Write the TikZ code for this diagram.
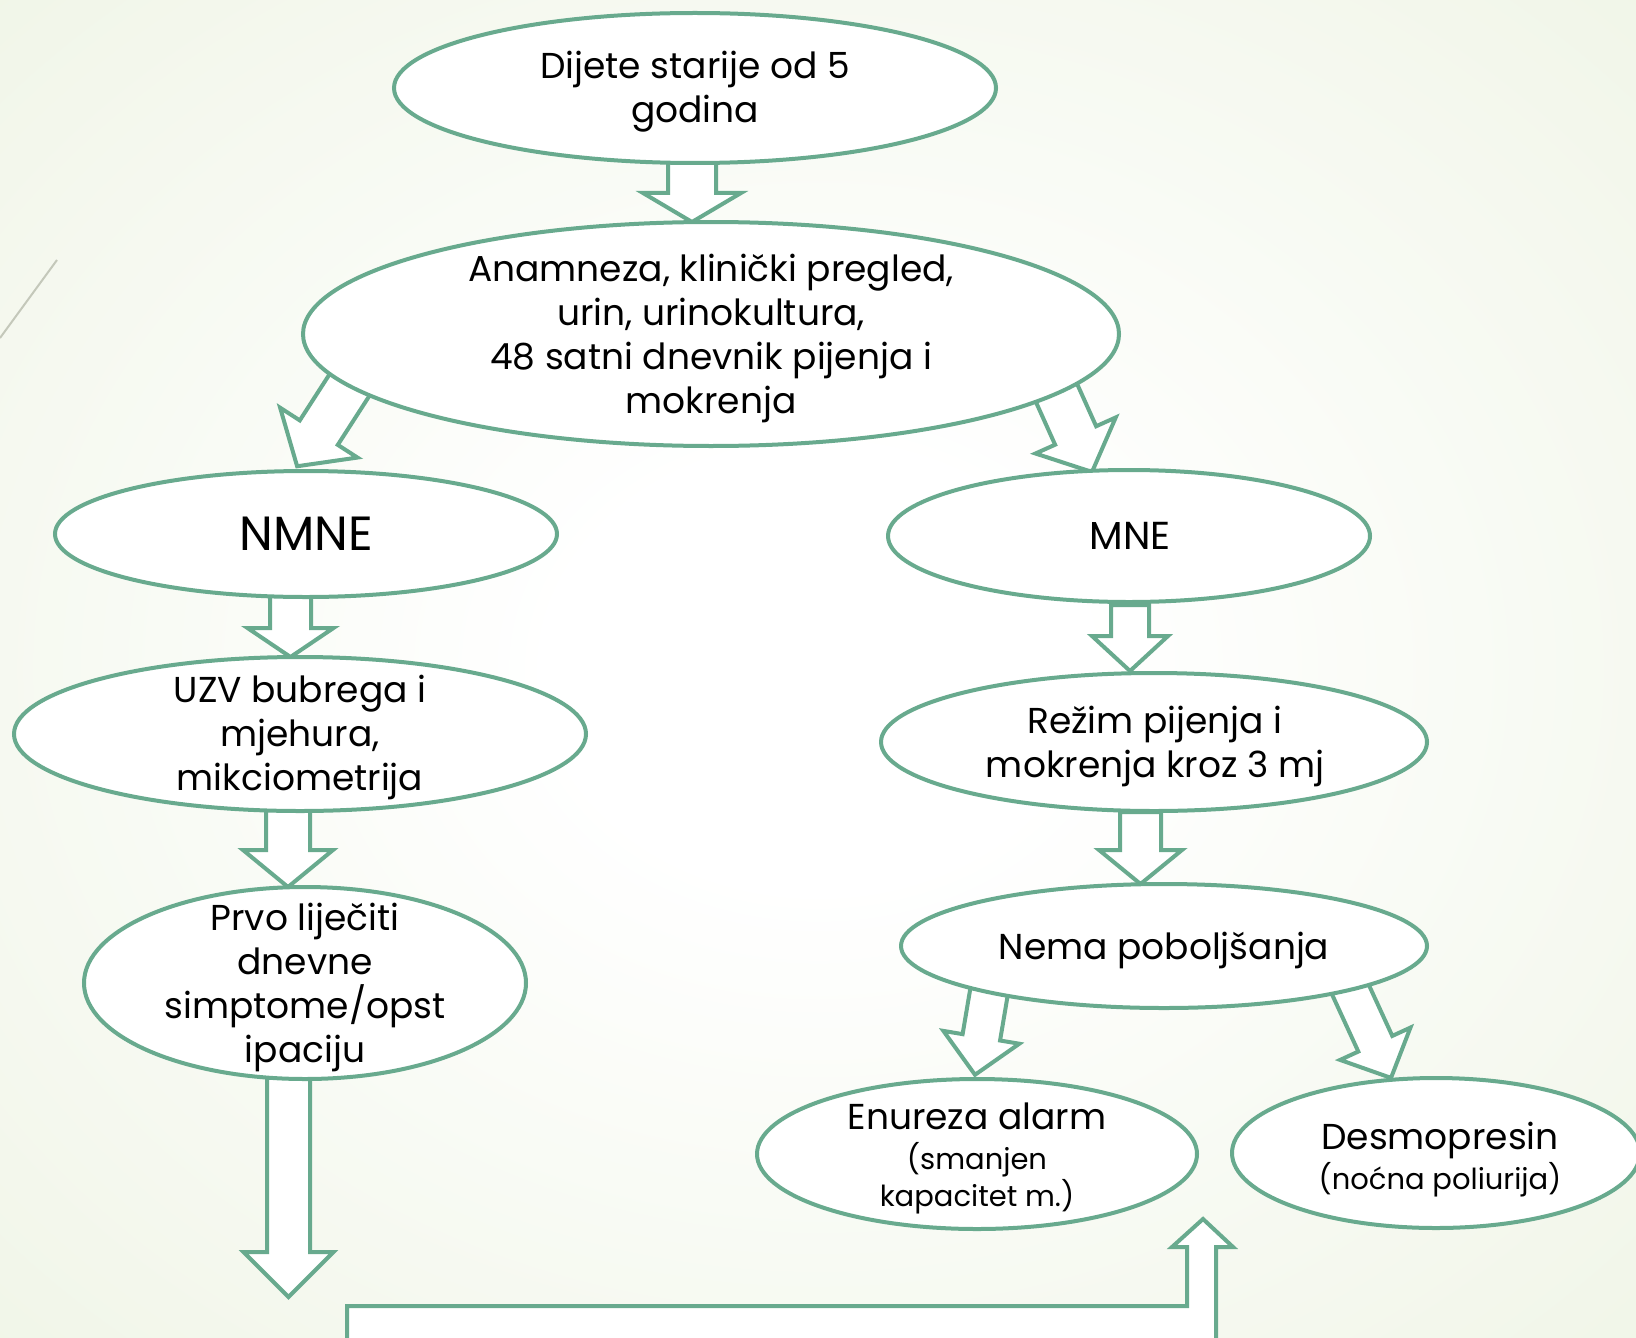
\documentclass[tikz,border=0pt]{standalone}
\usepackage{fontspec}
\setmainfont{Poppins}
\usetikzlibrary{shapes.geometric}
\definecolor{lg}{RGB}{104,170,142}
\definecolor{bgout}{RGB}{222,233,202}
\definecolor{deco}{RGB}{196,200,186}
\pgfdeclareradialshading{bgshade}{\pgfpoint{0bp}{0bp}}{color(0bp)=(white); color(8bp)=(white); color(72bp)=(bgout)}
\newcommand{\blockarrow}[7]{%
  \draw[barrowstyle, shift={(#1,#2)}, rotate=#3]
    (-#5,0) -- (-#5,{#4-#7}) -- (-#6,{#4-#7}) -- (0,#4) -- (#6,{#4-#7}) -- (#5,{#4-#7}) -- (#5,0) -- cycle;}
\begin{document}
\begin{tikzpicture}[x=0.5pt,y=-0.5pt,
  oval/.style={ellipse, draw=lg, line width=2pt, fill=white, inner sep=0pt},
  barrowstyle/.style={draw=lg, line width=2pt, fill=white, line join=miter},
  txt/.style={align=center, font=\fontsize{18}{22}\selectfont, inner sep=0pt},
  big/.style={align=center, font=\fontsize{24}{28}\selectfont, inner sep=0pt},
  mid/.style={align=center, font=\fontsize{19.5}{23}\selectfont, inner sep=0pt},
  small/.style={align=center, font=\fontsize{14.5}{18.5}\selectfont, inner sep=0pt},
]
\useasboundingbox (0,0) rectangle (1636,1337);
\shade[shading=bgshade] (0,0) rectangle (1636,1337);
\draw[deco, line width=1pt] (57,260) -- (0,338);

% block arrows
\blockarrow{692}{158}{0}{64}{24}{49}{29}
\blockarrow{354}{378}{-32.8}{105}{22.6}{46}{40}
\blockarrow{1054.5}{388.5}{24.2}{91.5}{22.5}{44}{40}
\blockarrow{290.5}{592}{0}{65}{20.5}{43}{29}
\blockarrow{288}{806}{0}{81}{22}{45}{37}
\blockarrow{288.5}{1073}{0}{224}{21.5}{45}{45}
\blockarrow{1130}{605}{0}{66}{19}{38}{35}
\blockarrow{1140.5}{812}{0}{72}{20.5}{41.5}{34}
\blockarrow{989.5}{989}{-9.6}{87}{19}{38.5}{38}
\blockarrow{1348.5}{985.5}{24.7}{101.7}{18.7}{38.7}{37.6}
% bent arrow at the bottom
\draw[barrowstyle] (347,1400) -- (347,1306) -- (1187,1306) -- (1187,1247) -- (1172,1247)
  -- (1203,1219) -- (1233,1247) -- (1216,1247) -- (1216,1400);

% ellipses
\node[oval, minimum width=301pt, minimum height=75pt] (e1) at (695,88) {};
\node[oval, minimum width=408pt, minimum height=112pt] (e2) at (711,334) {};
\node[oval, minimum width=251pt, minimum height=63pt] (nmne) at (306,534) {};
\node[oval, minimum width=241pt, minimum height=66pt] (mne) at (1129,536) {};
\node[oval, minimum width=286pt, minimum height=77pt] (uzv) at (300,734) {};
\node[oval, minimum width=221pt, minimum height=96pt] (prvo) at (305,983) {};
\node[oval, minimum width=273pt, minimum height=69pt] (rezim) at (1154,742) {};
\node[oval, minimum width=263pt, minimum height=62pt] (nema) at (1164,946) {};
\node[oval, minimum width=220pt, minimum height=75pt] (enu) at (977,1154) {};
\node[oval, minimum width=204pt, minimum height=75pt] (desmo) at (1436,1153) {};

% texts
\node[txt] (t1) at (695,91.5) {Dijete starije od 5\\godina};
\node[txt] (t2) at (711,338.5) {Anamneza, klinički pregled,\\urin, urinokultura,\\48 satni dnevnik pijenja i\\mokrenja};
\node[big] (t3) at (306,534) {NMNE};
\node[mid] (t4) at (1130,536) {MNE};
\node[txt] (t5) at (300,737) {UZV bubrega i\\mjehura,\\mikciometrija};
\node[txt] (t6) at (305,987) {Prvo liječiti\\dnevne\\simptome/opst\\ipaciju};
\node[txt] (t7) at (1155,746) {Režim pijenja i\\mokrenja kroz 3 mj};
\node[txt] (t8) at (1164,950) {Nema poboljšanja};
\node[txt] (t9) at (977,1116) {Enureza alarm};
\node[small] (t10) at (977,1178.5) {(smanjen\\kapacitet m.)};
\node[txt] (t11) at (1440,1140) {Desmopresin};
\node[small] (t12) at (1440,1179.5) {(noćna poliurija)};
\end{tikzpicture}
\end{document}
